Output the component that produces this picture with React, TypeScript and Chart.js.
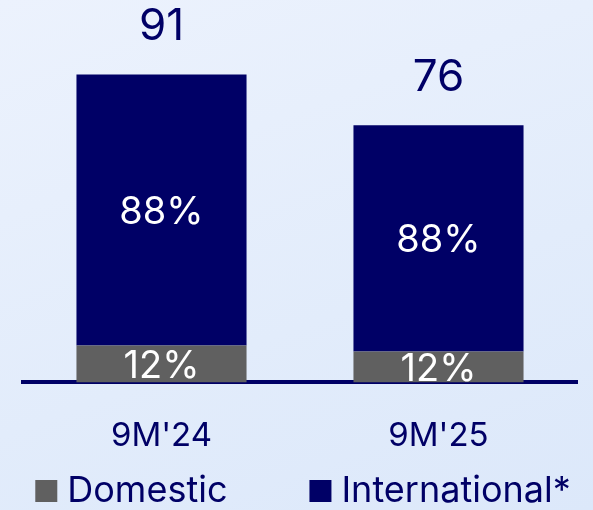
import React, { useEffect, useRef } from "react";
import { Chart, registerables } from "chart.js";

Chart.register(...registerables);

const categories = ["9M'24", "9M'25"];
const domesticValues = [10.9, 9.1];
const internationalValues = [80.1, 66.9];
const domesticPctLabels = ["12%", "12%"];
const internationalPctLabels = ["88%", "88%"];
const seriesNames = ["Domestic", "International*"];

const NAVY = "#000066";
const GRAY = "#606060";
const FONT = "Inter, 'Noto Sans', sans-serif";

const labelPlugin = {
  id: "barLabels",
  afterDatasetsDraw(chart: any) {
    const ctx = chart.ctx;
    ctx.save();
    ctx.textAlign = "center";
    ctx.textBaseline = "alphabetic";
    const pctSets = [domesticPctLabels, internationalPctLabels];
    chart.data.datasets.forEach((ds: any, di: number) => {
      const meta = chart.getDatasetMeta(di);
      meta.data.forEach((bar: any, i: number) => {
        const cy = (bar.y + bar.base) / 2;
        ctx.fillStyle = "#ffffff";
        ctx.font = `38px ${FONT}`;
        ctx.fillText(pctSets[di][i], bar.x, cy + 14);
      });
    });
    const topMeta = chart.getDatasetMeta(chart.data.datasets.length - 1);
    topMeta.data.forEach((bar: any, i: number) => {
      const total = Math.round(domesticValues[i] + internationalValues[i]);
      ctx.fillStyle = NAVY;
      ctx.font = `44px ${FONT}`;
      ctx.fillText(String(total), bar.x, bar.y - 34);
    });
    ctx.restore();
  },
};

const legendPlugin = {
  id: "customLegend",
  afterDraw(chart: any) {
    const ctx = chart.ctx;
    ctx.save();
    ctx.font = `36px ${FONT}`;
    ctx.textBaseline = "alphabetic";
    ctx.textAlign = "left";
    const box = 22;
    const gap = 10;
    const itemGap = 82;
    const items = chart.data.datasets.map((ds: any) => ({
      text: ds.label,
      color: ds.backgroundColor,
      w: box + gap + ctx.measureText(ds.label).width,
    }));
    const total = items.reduce((s: number, it: any) => s + it.w, 0) + itemGap * (items.length - 1);
    let x = 303 - total / 2;
    const baseline = 502;
    items.forEach((it: any) => {
      ctx.fillStyle = it.color;
      ctx.fillRect(x, baseline - 22, box, box);
      ctx.fillStyle = NAVY;
      ctx.fillText(it.text, x + box + gap, baseline);
      x += it.w + itemGap;
    });
    ctx.restore();
  },
};

export default function App() {
  const ref = useRef<HTMLCanvasElement>(null);
  useEffect(() => {
    if (!ref.current) return;
    const chart = new Chart(ref.current, {
      type: "bar",
      data: {
        labels: categories,
        datasets: [
          {
            label: seriesNames[0],
            data: domesticValues,
            backgroundColor: GRAY,
            borderWidth: 0,
            barPercentage: 1,
            categoryPercentage: 0.614,
          },
          {
            label: seriesNames[1],
            data: internationalValues,
            backgroundColor: NAVY,
            borderWidth: 0,
            barPercentage: 1,
            categoryPercentage: 0.614,
          },
        ],
      },
      options: {
        responsive: false,
        animation: false,
        devicePixelRatio: 1,
        layout: { padding: { left: 23, right: 16, top: 0, bottom: 20 } },
        plugins: {
          tooltip: { enabled: false },
          legend: { display: false },
        },
        scales: {
          x: {
            stacked: true,
            z: 1,
            grid: { display: false, drawTicks: false },
            border: { display: true, color: NAVY, width: 4 },
            ticks: { color: NAVY, font: { family: FONT, size: 33 }, padding: 34 },
          },
          y: {
            stacked: true,
            display: false,
            min: 0,
            max: 113,
          },
        },
      },
      plugins: [labelPlugin, legendPlugin],
    });
    return () => chart.destroy();
  }, []);
  return (
    <div
      style={{
        position: "fixed",
        left: 0,
        top: 0,
        width: 593,
        height: 510,
        background: "linear-gradient(160deg, #ECF2FD 0%, #E2ECFB 60%, #DCE8FA 100%)",
      }}
    >
      <canvas ref={ref} width={593} height={510} style={{ display: "block" }} />
    </div>
  );
}
